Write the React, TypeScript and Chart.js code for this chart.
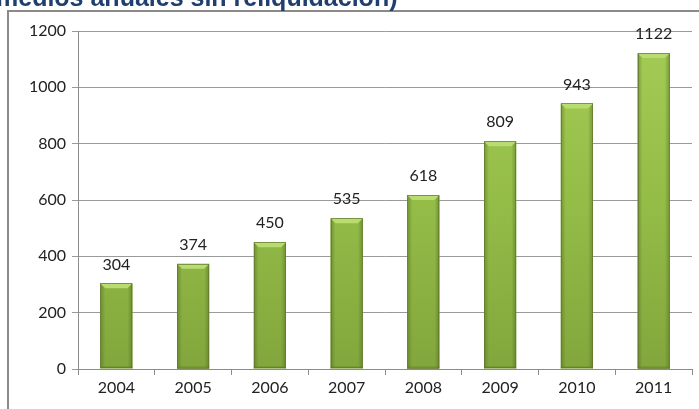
import React, { useEffect, useRef } from "react";
import { Chart, registerables } from "chart.js";

Chart.register(...registerables);

const titleText = "medios anuales sin reliquidación)";
const years = ["2004", "2005", "2006", "2007", "2008", "2009", "2010", "2011"];
const values = [304, 374, 450, 535, 618, 809, 943, 1122];
const yMin = 0;
const yMax = 1200;
const yStep = 200;

const FONT = "Lato, 'Open Sans', 'Liberation Sans', sans-serif";

const framePlugin = {
  id: "frame",
  beforeDraw(chart: any) {
    const ctx = chart.ctx;
    ctx.save();
    ctx.fillStyle = "#ffffff";
    ctx.fillRect(0, 0, chart.width, chart.height);
    ctx.strokeStyle = "#8a8a8a";
    ctx.lineWidth = 2;
    ctx.beginPath();
    ctx.moveTo(8, chart.height);
    ctx.lineTo(8, 11);
    ctx.lineTo(chart.width, 11);
    ctx.stroke();
    ctx.fillStyle = "#1F3F6E";
    ctx.font = "bold 25px 'Liberation Sans', Arial, sans-serif";
    ctx.textBaseline = "alphabetic";
    ctx.textAlign = "left";
    ctx.fillText(titleText, -4, 6);
    ctx.restore();
  },
};

const bevelPlugin = {
  id: "bevel",
  afterDatasetsDraw(chart: any) {
    const ctx = chart.ctx;
    const meta = chart.getDatasetMeta(0);
    ctx.save();
    meta.data.forEach((el: any) => {
      const half = el.width / 2;
      const l = el.x - half;
      const r = el.x + half;
      const t = el.y;
      const b = el.base;
      const bv = 5;
      const gl = ctx.createLinearGradient(l, 0, l + bv, 0);
      gl.addColorStop(0, "rgba(80,105,30,0.5)");
      gl.addColorStop(1, "rgba(80,105,30,0)");
      ctx.fillStyle = gl;
      ctx.beginPath();
      ctx.moveTo(l, t);
      ctx.lineTo(l + bv, t + bv);
      ctx.lineTo(l + bv, b - 2);
      ctx.lineTo(l, b);
      ctx.closePath();
      ctx.fill();
      const gr = ctx.createLinearGradient(r, 0, r - bv, 0);
      gr.addColorStop(0, "rgba(80,105,30,0.5)");
      gr.addColorStop(1, "rgba(80,105,30,0)");
      ctx.fillStyle = gr;
      ctx.beginPath();
      ctx.moveTo(r, t);
      ctx.lineTo(r - bv, t + bv);
      ctx.lineTo(r - bv, b - 2);
      ctx.lineTo(r, b);
      ctx.closePath();
      ctx.fill();
      ctx.fillStyle = "#B9DC70";
      ctx.beginPath();
      ctx.moveTo(l, t);
      ctx.lineTo(r, t);
      ctx.lineTo(r - bv, t + bv);
      ctx.lineTo(l + bv, t + bv);
      ctx.closePath();
      ctx.fill();
      ctx.fillStyle = "rgba(80,105,30,0.35)";
      ctx.fillRect(l, b - 2, r - l, 2);
      ctx.strokeStyle = "rgba(95,120,45,0.7)";
      ctx.lineWidth = 1;
      ctx.strokeRect(Math.round(l) + 0.5, Math.round(t) + 0.5, Math.round(r - l) - 1, Math.round(b - t) - 1);
    });
    ctx.fillStyle = "#222222";
    ctx.font = `16px ${FONT}`;
    ctx.textAlign = "center";
    ctx.textBaseline = "middle";
    meta.data.forEach((el: any, i: number) => {
      ctx.fillText(String(values[i]), el.x, el.y - 19);
    });
    ctx.restore();
  },
};

export default function App() {
  const ref = useRef<HTMLCanvasElement>(null);
  useEffect(() => {
    if (!ref.current) return;
    const chart = new Chart(ref.current, {
      type: "bar",
      data: {
        labels: years,
        datasets: [
          {
            data: values,
            backgroundColor: (c: any) => {
              const ch = c.chart;
              const area = ch.chartArea;
              if (!area) return "#92BA45";
              const g = ch.ctx.createLinearGradient(0, area.top, 0, area.bottom);
              g.addColorStop(0, "#A4CC55");
              g.addColorStop(0.5, "#94BD48");
              g.addColorStop(1, "#82A63C");
              return g;
            },
            borderWidth: 0,
            barPercentage: 0.42,
            categoryPercentage: 1,
          },
        ],
      },
      options: {
        animation: false,
        responsive: false,
        maintainAspectRatio: false,
        layout: { padding: { top: 31, right: 7, left: 0, bottom: 0 } },
        plugins: {
          legend: { display: false },
          tooltip: { enabled: false },
          title: { display: false },
        },
        scales: {
          x: {
            afterFit: (s: any) => {
              s.height = 40;
            },
            grid: {
              drawOnChartArea: false,
              drawTicks: true,
              tickLength: 6,
              color: "#8c8c8c",
            },
            border: { display: true, color: "#8c8c8c" },
            ticks: {
              color: "#222222",
              font: { family: FONT, size: 16 },
              padding: 3,
            },
          },
          y: {
            min: yMin,
            max: yMax,
            afterFit: (s: any) => {
              s.width = 78;
            },
            grid: {
              color: "#9a9a9a",
              tickLength: 6,
              drawTicks: true,
            },
            border: { display: true, color: "#8c8c8c" },
            ticks: {
              stepSize: yStep,
              color: "#222222",
              font: { family: FONT, size: 16 },
              padding: 6,
              callback: (v: any) => String(v),
            },
          },
        },
      },
      plugins: [framePlugin, bevelPlugin],
    });
    return () => chart.destroy();
  }, []);
  return (
    <div style={{ position: "fixed", left: 0, top: 0, width: 699, height: 409 }}>
      <canvas ref={ref} width={699} height={409} style={{ width: 699, height: 409, display: "block" }} />
    </div>
  );
}
